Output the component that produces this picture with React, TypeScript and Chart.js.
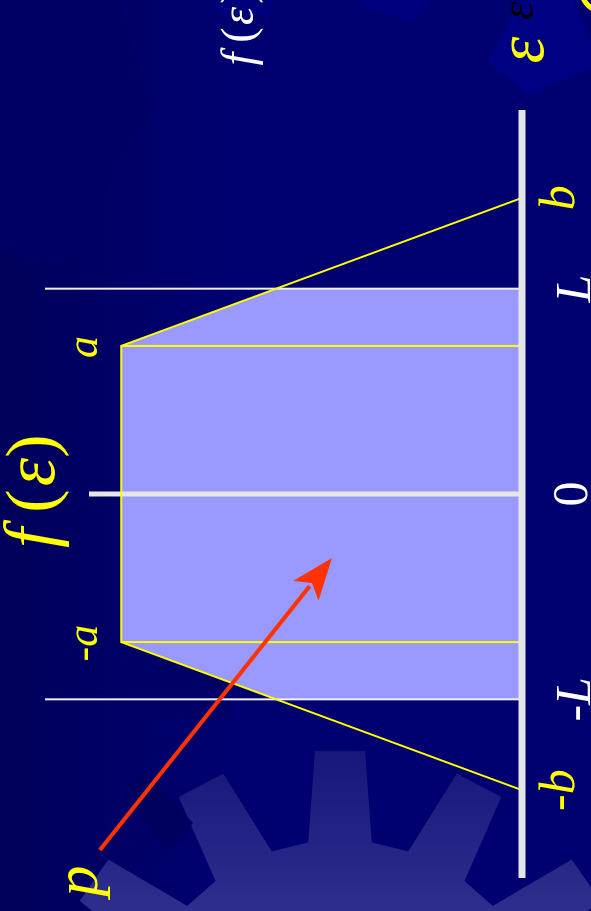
import React, { useEffect, useRef } from "react";
import { Chart, registerables } from "chart.js";

Chart.register(...registerables);

// ε positions of the marked points on the axis
const a = 1.5;
const L = 2.08;
const b = 3;

// extent of the ε axis and of the f(ε) scale
const epsMin = -3.89;
const epsMax = 3.89;
const fMax = 1.19;
const fAxisTop = 1.08;

// trapezoidal density f(ε)
const trapezoidEps = [-b, -a, a, b];
const trapezoidF = [0, 1, 1, 0];

// area under f(ε) between -L and L
const shadedEps = [-L, -a, a, L];
const shadedF = [0.613, 1, 1, 0.613];

// labels under the ε axis
const tickValues = [-b, -L, 0, L, b];
const tickLabels = ["-b", "-L", "0", "L", "b"];

// labels at the corners of the plateau
const cornerValues = [-a, a];
const cornerLabels = ["-a", "a"];

// arrow pointing at the shaded probability p
const arrowFrom = { x: -3.607, y: 1.053 };
const arrowTo = { x: -0.648, y: 0.474 };

const W = 911;
const H = 591;
const YELLOW = "#ffff00";
const AXIS = "#e6e6e6";
const SERIF = "'Liberation Serif', 'Times New Roman', serif";

const pts = (xs: number[], ys: number[]) => xs.map((x, i) => ({ x, y: ys[i] }));

function poly(ctx: CanvasRenderingContext2D, p: number[][], color: string) {
  ctx.beginPath();
  p.forEach(([x, y], i) => (i === 0 ? ctx.moveTo(x, y) : ctx.lineTo(x, y)));
  ctx.closePath();
  ctx.fillStyle = color;
  ctx.fill();
}

function gear(ctx: CanvasRenderingContext2D, cx: number, cy: number, rOut: number, rIn: number, teeth: number, tipHalf: number, baseHalf: number) {
  const step = (2 * Math.PI) / teeth;
  ctx.beginPath();
  for (let i = 0; i < teeth; i++) {
    const c = i * step;
    const corners = [
      [rIn, c - baseHalf],
      [rOut, c - tipHalf],
      [rOut, c + tipHalf],
      [rIn, c + baseHalf],
    ];
    corners.forEach(([r, t], j) => {
      const x = cx + r * Math.cos(t);
      const y = cy + r * Math.sin(t);
      if (i === 0 && j === 0) ctx.moveTo(x, y);
      else ctx.lineTo(x, y);
    });
  }
  ctx.closePath();
  const g = ctx.createLinearGradient(0, 0, 170, 0);
  g.addColorStop(0, "#2e2e8e");
  g.addColorStop(1, "#15157a");
  ctx.fillStyle = g;
  ctx.fill();
}

function text(ctx: CanvasRenderingContext2D, s: string, x: number, y: number, font: string, color: string) {
  ctx.font = font;
  ctx.fillStyle = color;
  ctx.textAlign = "center";
  ctx.textBaseline = "alphabetic";
  ctx.fillText(s, x, y);
}

const slideDecor = {
  id: "slideDecor",
  beforeDraw(chart: any) {
    const ctx: CanvasRenderingContext2D = chart.ctx;
    ctx.save();
    const bg = ctx.createLinearGradient(0, 0, 0, 220);
    bg.addColorStop(0, "#00005a");
    bg.addColorStop(1, "#000070");
    ctx.fillStyle = bg;
    ctx.fillRect(0, 0, W, H);

    // faint background pentagons
    poly(ctx, [[849, 488], [898, 513], [940, 560], [848, 600], [816, 530]], "#000082");
    poly(ctx, [[911, 357], [903, 360], [889, 415], [911, 432]], "#00007e");
    poly(ctx, [[911, 213], [894, 222], [895, 272], [911, 272]], "#00007a");
    poly(ctx, [[911, 51], [898, 60], [898, 130], [911, 130]], "#000068");
    poly(ctx, [[250, 150], [190, 150], [190, 230], [250, 230]], "#000066");
    poly(ctx, [[911, 0], [911, 120], [800, 150], [640, 60], [660, 0]], "#000064");

    gear(ctx, -139, 340, 300, 210, 13, (4.8 * Math.PI) / 180, (8.7 * Math.PI) / 180);

    poly(ctx, [[141, 145], [88, 193], [59, 170], [112, 122]], "#00005e");
    ctx.restore();
  },
  afterDatasetsDraw(chart: any) {
    const ctx: CanvasRenderingContext2D = chart.ctx;
    const xs = chart.scales.x;
    const ys = chart.scales.y;
    const x0 = xs.getPixelForValue(arrowFrom.x);
    const y0 = ys.getPixelForValue(arrowFrom.y);
    const x1 = xs.getPixelForValue(arrowTo.x);
    const y1 = ys.getPixelForValue(arrowTo.y);
    const ang = Math.atan2(y1 - y0, x1 - x0);
    const head = 42;
    const half = 16;
    const bx = x1 - head * Math.cos(ang);
    const by = y1 - head * Math.sin(ang);
    ctx.save();
    ctx.strokeStyle = "#ff3300";
    ctx.fillStyle = "#ff3300";
    ctx.lineWidth = 4;
    ctx.beginPath();
    ctx.moveTo(x0, y0);
    ctx.lineTo(bx + 6 * Math.cos(ang), by + 6 * Math.sin(ang));
    ctx.stroke();
    ctx.beginPath();
    ctx.moveTo(x1, y1);
    ctx.lineTo(bx - half * Math.sin(ang), by + half * Math.cos(ang));
    ctx.lineTo(bx + 10 * Math.cos(ang), by + 10 * Math.sin(ang));
    ctx.lineTo(bx + half * Math.sin(ang), by - half * Math.cos(ang));
    ctx.closePath();
    ctx.fill();
    ctx.restore();
  },
  afterDraw(chart: any) {
    const ctx: CanvasRenderingContext2D = chart.ctx;
    const xs = chart.scales.x;
    ctx.save();

    // ε axis labels
    const tickColor = [YELLOW, "#ffffff", "#ffffff", "#ffffff", YELLOW];
    const tickBase = [574, 590, 587, 590, 574];
    tickValues.forEach((v, i) => {
      const label = tickLabels[i];
      const font = label === "0" ? `50px ${SERIF}` : `italic 50px ${SERIF}`;
      text(ctx, label, xs.getPixelForValue(v), tickBase[i], font, tickColor[i]);
    });

    // plateau corner labels
    cornerValues.forEach((v, i) => {
      text(ctx, cornerLabels[i], xs.getPixelForValue(v) - 1, 97, `italic 44px ${SERIF}`, YELLOW);
    });

    // f(ε) above the vertical axis
    const u0 = xs.getPixelForValue(0);
    text(ctx, "f", u0 - 44, 54, `italic 72px ${SERIF}`, YELLOW);
    text(ctx, "(", u0 - 7, 54, `70px ${SERIF}`, YELLOW);
    text(ctx, "ε", u0 + 22, 54, `italic 72px ${SERIF}`, YELLOW);
    text(ctx, ")", u0 + 48, 54, `70px ${SERIF}`, YELLOW);

    // p
    text(ctx, "p", 30, 97, `italic 62px ${SERIF}`, YELLOW);

    // slide title fragments
    text(ctx, "f", 852, 253, `italic 46px ${SERIF}`, "#ffffff");
    text(ctx, "(", 876, 253, `46px ${SERIF}`, "#ffffff");
    text(ctx, "ε", 895, 253, `italic 46px ${SERIF}`, "#ffffff");
    text(ctx, ")", 915, 253, `46px ${SERIF}`, "#ffffff");
    text(ctx, "ε", 900, 533, `italic 46px ${SERIF}`, "#000000");
    text(ctx, "ε", 861, 543, `italic 68px ${SERIF}`, YELLOW);
    ctx.beginPath();
    ctx.arc(920, 602, 20, 0, Math.PI * 2);
    ctx.lineWidth = 5;
    ctx.strokeStyle = YELLOW;
    ctx.stroke();
    ctx.restore();
  },
};

export default function App() {
  const ref = useRef<HTMLCanvasElement>(null);

  useEffect(() => {
    const seg = (x0: number, y0: number, x1: number, y1: number) => [
      { x: x0, y: y0 },
      { x: x1, y: y1 },
    ];
    const chart = new Chart(ref.current as HTMLCanvasElement, {
      type: "line",
      data: {
        datasets: [
          { label: "ε axis", data: seg(epsMin, 0, epsMax, 0), borderColor: AXIS, borderWidth: 7, order: 0, clip: false } as any,
          { label: "f(ε)", data: pts(trapezoidEps, trapezoidF), borderColor: YELLOW, borderWidth: 2, order: 1, clip: false } as any,
          { label: "f axis", data: seg(0, 0, 0, fAxisTop), borderColor: AXIS, borderWidth: 5, order: 2, clip: false } as any,
          { label: "-a", data: seg(-a, 0, -a, 1), borderColor: YELLOW, borderWidth: 2, order: 3, clip: false } as any,
          { label: "a", data: seg(a, 0, a, 1), borderColor: YELLOW, borderWidth: 2, order: 3, clip: false } as any,
          { label: "-L", data: seg(-L, 0, -L, fMax), borderColor: "#f0f0f4", borderWidth: 2, order: 4, clip: false } as any,
          { label: "L", data: seg(L, 0, L, fMax), borderColor: "#f0f0f4", borderWidth: 2, order: 4, clip: false } as any,
          {
            label: "p",
            data: pts(shadedEps, shadedF),
            borderColor: "rgba(0,0,0,0)",
            borderWidth: 0,
            backgroundColor: "#9999ff",
            fill: "origin",
            order: 6,
          } as any,
        ],
      },
      options: {
        animation: false,
        responsive: false,
        maintainAspectRatio: false,
        devicePixelRatio: 1,
        layout: { padding: { left: 33, right: 110, top: 45, bottom: 69 } },
        elements: { point: { radius: 0, hoverRadius: 0 }, line: { tension: 0 } },
        scales: {
          x: { type: "linear", min: epsMin, max: epsMax, display: false },
          y: { type: "linear", min: 0, max: fMax, display: false },
        },
        plugins: { legend: { display: false }, tooltip: { enabled: false } },
        events: [],
      },
      plugins: [slideDecor],
    });
    return () => chart.destroy();
  }, []);

  return (
    <div
      style={{
        position: "fixed",
        left: 0,
        top: 0,
        width: 591,
        height: 911,
        overflow: "hidden",
        background: "#000070",
      }}
    >
      <canvas
        ref={ref}
        width={W}
        height={H}
        style={{
          position: "absolute",
          left: 0,
          top: 0,
          width: W,
          height: H,
          transformOrigin: "0 0",
          transform: "translateY(911px) rotate(-90deg)",
        }}
      />
    </div>
  );
}
